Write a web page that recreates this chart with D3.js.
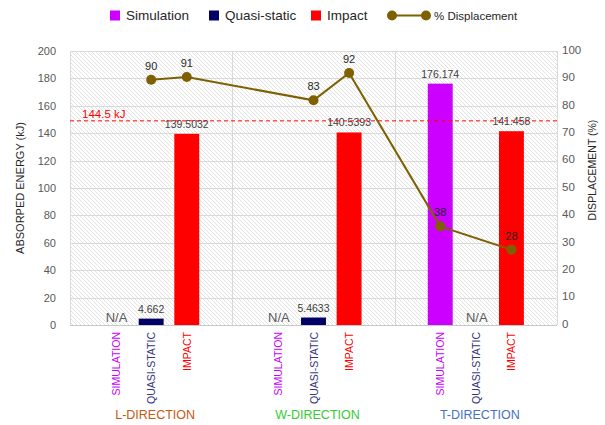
<!DOCTYPE html>
<html><head><meta charset="utf-8">
<script src="https://cdn.jsdelivr.net/npm/d3@7"></script>
<style>body{margin:0;background:#fff;} text{font-family:"Liberation Sans",Arial,sans-serif;}</style>
</head><body>
<svg id="chart" width="605" height="425"></svg>
<script>
// ---- data ----
const groups = ["L-DIRECTION", "W-DIRECTION", "T-DIRECTION"];
const subCategories = ["SIMULATION", "QUASI-STATIC", "IMPACT"];
const seriesNames = ["Simulation", "Quasi-static", "Impact"];
const simulation = [null, null, 176.174];
const quasiStatic = [4.662, 5.4633, null];
const impact = [139.5032, 140.5393, 141.458];
const barLabels = {
  "Simulation": [null, null, "176.174"],
  "Quasi-static": ["4.662", "5.4633", null],
  "Impact": ["139.5032", "140.5393", "141.458"]
};
const dispGroup = ["L-DIRECTION", "L-DIRECTION", "W-DIRECTION", "W-DIRECTION", "T-DIRECTION", "T-DIRECTION"];
const dispCategory = ["QUASI-STATIC", "IMPACT", "QUASI-STATIC", "IMPACT", "SIMULATION", "IMPACT"];
const dispValues = [89.5, 90.5, 82, 92, 36, 27.5];
const dispLabels = ["90", "91", "83", "92", "38", "28"];
const thresholdValue = 149;
const thresholdLabel = "144.5 kJ";
const leftTicks = [0, 20, 40, 60, 80, 100, 120, 140, 160, 180, 200];
const rightTicks = [0, 10, 20, 30, 40, 50, 60, 70, 80, 90, 100];

const seriesValues = [simulation, quasiStatic, impact];
const seriesColors = ["#cc00ff", "#000066", "#ff0000"];
const subColors = ["#cc00ff", "#333380", "#ff0000"];
const groupColors = ["#c55a11", "#33cc33", "#4472c4"];
const lineColor = "#7f6000";

const svg = d3.select("#chart");
const L = 70, R = 557, T = 51, B = 325;

const x0 = d3.scaleBand().domain(groups).range([L, R]).padding(0);
const x1 = d3.scaleBand().domain(subCategories).range([0, x0.bandwidth()]).paddingInner(0.3).paddingOuter(0.93);
const y = d3.scaleLinear().domain([0, 200]).range([B, T]);
const y2 = d3.scaleLinear().domain([0, 100]).range([B, T]);

// hatch pattern
const defs = svg.append("defs");
const pat = defs.append("pattern").attr("id", "hatch").attr("patternUnits", "userSpaceOnUse")
  .attr("width", 4).attr("height", 4);
pat.append("rect").attr("width", 4).attr("height", 4).attr("fill", "#ffffff");
pat.append("path").attr("d", "M-1,-1 L5,5 M-1,3 L1,5 M3,-1 L5,1").attr("stroke", "#dddddd").attr("stroke-width", 0.8);

svg.append("rect").attr("x", L).attr("y", T).attr("width", R - L).attr("height", B - T).attr("fill", "url(#hatch)");

// gridlines
svg.append("g").selectAll("line").data(leftTicks.filter(d => d > 0)).join("line")
  .attr("x1", L).attr("x2", R).attr("y1", d => Math.round(y(d)) + 0.5).attr("y2", d => Math.round(y(d)) + 0.5)
  .attr("stroke", "#d9d9d9").attr("stroke-width", 1);
const vlines = groups.map(g => x0(g)).concat([R]);
svg.append("g").selectAll("line").data(vlines).join("line")
  .attr("x1", d => Math.round(d) + 0.5).attr("x2", d => Math.round(d) + 0.5).attr("y1", T).attr("y2", B)
  .attr("stroke", "#d9d9d9").attr("stroke-width", 1);
svg.append("line").attr("x1", L).attr("x2", R).attr("y1", B + 0.5).attr("y2", B + 0.5).attr("stroke", "#c8c8c8");

// left axis
const yAxis = d3.axisLeft(y).tickValues(leftTicks).tickSize(0).tickPadding(14);
const ga = svg.append("g").attr("transform", `translate(${L},0)`).call(yAxis);
ga.select(".domain").remove();
ga.selectAll("text").attr("font-size", 11).attr("fill", "#595959").attr("font-family", "Liberation Sans, Arial, sans-serif");

// right axis
const y2Axis = d3.axisRight(y2).tickValues(rightTicks).tickSize(0).tickPadding(5);
const gr = svg.append("g").attr("transform", `translate(${R},0)`).call(y2Axis);
gr.select(".domain").remove();
gr.selectAll("text").attr("font-size", 11.5).attr("fill", "#595959").attr("font-family", "Liberation Serif, Times New Roman, serif").attr("dy", "0.2em");

// axis titles
svg.append("text").attr("transform", `translate(24,${(T + B) / 2}) rotate(-90)`).attr("text-anchor", "middle")
  .attr("font-size", 11).attr("fill", "#262626").text("ABSORPED ENERGY (kJ)");
svg.append("text").attr("transform", `translate(596,170) rotate(-90)`).attr("text-anchor", "middle")
  .attr("font-size", 10.5).attr("fill", "#262626").text("DISPLACEMENT (%)");

// bars
const barData = [];
seriesValues.forEach((vals, si) => {
  vals.forEach((v, gi) => {
    barData.push({ series: seriesNames[si], si, group: groups[gi], gi, value: v, label: barLabels[seriesNames[si]][gi] });
  });
});
const bx = d => x0(d.group) + x1(subCategories[d.si]);
svg.append("g").selectAll("rect").data(barData.filter(d => d.value != null)).join("rect")
  .attr("x", bx).attr("width", x1.bandwidth())
  .attr("y", d => y(d.value)).attr("height", d => y(0) - y(d.value))
  .attr("fill", d => seriesColors[d.si]);
svg.append("g").selectAll("text").data(barData.filter(d => d.value != null)).join("text")
  .attr("x", d => bx(d) + x1.bandwidth() / 2).attr("y", d => y(d.value) - 6)
  .attr("text-anchor", "middle").attr("font-size", 10.5).attr("fill", "#404040").text(d => d.label);
svg.append("g").selectAll("text").data(barData.filter(d => d.value == null)).join("text")
  .attr("x", d => bx(d) + x1.bandwidth() / 2 + 1).attr("y", B - 3)
  .attr("text-anchor", "middle").attr("font-size", 13).attr("fill", "#595959").text("N/A");

// threshold line
svg.append("line").attr("x1", L).attr("x2", R).attr("y1", y(thresholdValue)).attr("y2", y(thresholdValue))
  .attr("stroke", "#ff0000").attr("stroke-width", 1).attr("stroke-dasharray", "4,3");
svg.append("text").attr("x", 82).attr("y", y(thresholdValue) - 3).attr("font-size", 11.5).attr("fill", "#ff0000").text(thresholdLabel);

// displacement line
const pts = dispValues.map((v, i) => ({
  x: x0(dispGroup[i]) + x1(dispCategory[i]) + x1.bandwidth() / 2,
  y: y2(v), label: dispLabels[i]
}));
svg.append("path").datum(pts).attr("d", d3.line().x(d => d.x).y(d => d.y))
  .attr("fill", "none").attr("stroke", lineColor).attr("stroke-width", 2);
svg.append("g").selectAll("circle").data(pts).join("circle")
  .attr("cx", d => d.x).attr("cy", d => d.y).attr("r", 5).attr("fill", lineColor);
svg.append("g").selectAll("text").data(pts).join("text")
  .attr("x", d => d.x).attr("y", d => d.y - 10).attr("text-anchor", "middle")
  .attr("font-size", 11).attr("fill", "#262626").text(d => d.label);

// category labels
groups.forEach((g, gi) => {
  subCategories.forEach((c, ci) => {
    const cx = x0(g) + x1(c) + x1.bandwidth() / 2 + 4;
    svg.append("text").attr("transform", `translate(${cx},332) rotate(-90)`).attr("text-anchor", "end")
      .attr("font-size", 10.5).attr("fill", subColors[ci]).text(c);
  });
  svg.append("text").attr("x", x0(g) + x0.bandwidth() / 2 + 4).attr("y", 419).attr("text-anchor", "middle")
    .attr("font-size", 12.5).attr("fill", groupColors[gi]).text(g);
});

// legend
const leg = svg.append("g");
const legItems = [{ x: 110, name: seriesNames[0], c: seriesColors[0] }, { x: 209, name: seriesNames[1], c: seriesColors[1] }, { x: 311, name: seriesNames[2], c: seriesColors[2] }];
legItems.forEach(d => {
  leg.append("rect").attr("x", d.x).attr("y", 10.5).attr("width", 10).attr("height", 10).attr("fill", d.c);
  leg.append("text").attr("x", d.x + 16).attr("y", 20).attr("font-size", 13.5).attr("fill", "#262626").text(d.name);
});
leg.append("line").attr("x1", 392).attr("x2", 426).attr("y1", 15.5).attr("y2", 15.5).attr("stroke", lineColor).attr("stroke-width", 2);
leg.append("circle").attr("cx", 392).attr("cy", 15.5).attr("r", 5).attr("fill", lineColor);
leg.append("circle").attr("cx", 426).attr("cy", 15.5).attr("r", 5).attr("fill", lineColor);
leg.append("text").attr("x", 434).attr("y", 19.5).attr("font-size", 11.5).attr("fill", "#262626").text("% Displacement");
</script>
</body></html>
